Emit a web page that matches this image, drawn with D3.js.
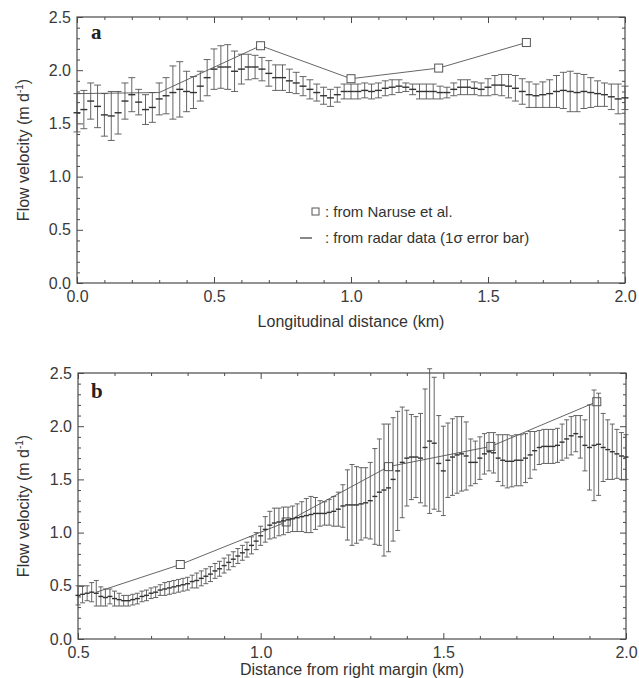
<!DOCTYPE html>
<html lang="en">
<head>
<meta charset="UTF-8">
<title>Flow velocity profiles</title>
<script src="https://cdn.jsdelivr.net/npm/d3@7"></script>
<style>
    html, body { margin: 0; padding: 0; background: #fff; }
    svg { display: block; font-family: "Liberation Sans", Arial, sans-serif; }
    .tick text { fill: #3a3a3a; }
</style>
</head>
<body>
<svg id="chart" width="639" height="678"></svg>
<script>
    // ---- panel a: longitudinal profile (radar, 0.025 km spacing) ----
    const topDist = d3.range(81).map(i => i * 0.025);
    const topVel = [
        1.60, 1.63, 1.71, 1.66, 1.58, 1.57, 1.60, 1.71, 1.77, 1.70,
        1.63, 1.65, 1.73, 1.76, 1.79, 1.82, 1.80, 1.79, 1.85, 1.93,
        2.01, 2.03, 2.03, 1.99, 2.01, 2.03, 2.03, 2.01, 1.97, 1.93,
        1.93, 1.90, 1.88, 1.85, 1.82, 1.79, 1.76, 1.74, 1.77, 1.80,
        1.80, 1.80, 1.81, 1.80, 1.81, 1.83, 1.84, 1.85, 1.84, 1.82,
        1.80, 1.80, 1.80, 1.79, 1.79, 1.82, 1.84, 1.84, 1.83, 1.82,
        1.84, 1.86, 1.86, 1.85, 1.83, 1.80, 1.77, 1.76, 1.77, 1.78,
        1.80, 1.81, 1.80, 1.79, 1.80, 1.79, 1.78, 1.77, 1.75, 1.73,
        1.74
    ];
    const topSig = [
        0.18, 0.18, 0.17, 0.20, 0.20, 0.23, 0.20, 0.17, 0.16, 0.12,
        0.14, 0.14, 0.15, 0.17, 0.25, 0.26, 0.19, 0.15, 0.14, 0.17,
        0.19, 0.20, 0.21, 0.19, 0.14, 0.12, 0.11, 0.11, 0.12, 0.12,
        0.12, 0.11, 0.10, 0.09, 0.09, 0.08, 0.08, 0.08, 0.07, 0.07,
        0.07, 0.07, 0.07, 0.07, 0.07, 0.07, 0.07, 0.06, 0.04, 0.05,
        0.07, 0.07, 0.07, 0.06, 0.05, 0.06, 0.07, 0.07, 0.06, 0.06,
        0.08, 0.09, 0.10, 0.11, 0.12, 0.12, 0.12, 0.11, 0.12, 0.13,
        0.15, 0.17, 0.19, 0.18, 0.16, 0.14, 0.12, 0.11, 0.12, 0.14,
        0.11
    ];
    const topNaruseDist = [0.0, 0.30, 0.67, 1.00, 1.32, 1.64];
    const topNaruseVel = [1.78, 1.79, 2.23, 1.92, 2.02, 2.26];
    // squares hidden under the radar bars in the figure are not marked
    const topNaruseShown = [false, false, true, true, true, true];

    // ---- panel b: transverse profile (radar, 0.0125 km spacing) ----
    const botDist = d3.range(121).map(i => 0.5 + i * 0.0125);
    const botVel = [
        0.41, 0.42, 0.43, 0.44, 0.43, 0.40, 0.39, 0.40, 0.38, 0.37,
        0.36, 0.36, 0.37, 0.38, 0.40, 0.41, 0.43, 0.44, 0.46, 0.47,
        0.48, 0.49, 0.50, 0.51, 0.52, 0.54, 0.55, 0.57, 0.59, 0.61,
        0.64, 0.66, 0.69, 0.72, 0.75, 0.78, 0.81, 0.84, 0.88, 0.92,
        0.97, 1.03, 1.07, 1.09, 1.10, 1.11, 1.12, 1.13, 1.14, 1.15,
        1.16, 1.17, 1.18, 1.18, 1.18, 1.19, 1.20, 1.22, 1.25, 1.26,
        1.26, 1.26, 1.27, 1.28, 1.30, 1.34, 1.38, 1.40, 1.42, 1.50,
        1.58, 1.66, 1.70, 1.71, 1.71, 1.70, 1.80, 1.86, 1.84, 1.65,
        1.58, 1.68, 1.71, 1.73, 1.74, 1.72, 1.66, 1.66, 1.70, 1.74,
        1.76, 1.75, 1.70, 1.68, 1.67, 1.67, 1.68, 1.68, 1.70, 1.73,
        1.77, 1.80, 1.81, 1.81, 1.81, 1.82, 1.85, 1.88, 1.91, 1.93,
        1.90, 1.82, 1.80, 1.82, 1.83, 1.80, 1.78, 1.76, 1.74, 1.72,
        1.71
    ];
    const botSig = [
        0.09, 0.08, 0.07, 0.09, 0.12, 0.09, 0.08, 0.07, 0.07, 0.06,
        0.05, 0.05, 0.05, 0.05, 0.05, 0.05, 0.05, 0.05, 0.05, 0.06,
        0.06, 0.06, 0.06, 0.06, 0.06, 0.06, 0.07, 0.07, 0.07, 0.07,
        0.07, 0.07, 0.07, 0.07, 0.07, 0.07, 0.07, 0.07, 0.08, 0.08,
        0.09, 0.12, 0.13, 0.14, 0.13, 0.13, 0.12, 0.12, 0.13, 0.14,
        0.16, 0.17, 0.15, 0.12, 0.11, 0.12, 0.14, 0.16, 0.20, 0.33,
        0.38, 0.36, 0.34, 0.33, 0.36, 0.45, 0.50, 0.62, 0.60, 0.58,
        0.56, 0.52, 0.45, 0.40, 0.38, 0.42, 0.55, 0.68, 0.62, 0.45,
        0.42, 0.35, 0.36, 0.36, 0.35, 0.32, 0.22, 0.20, 0.20, 0.19,
        0.18, 0.19, 0.22, 0.24, 0.25, 0.24, 0.24, 0.24, 0.23, 0.22,
        0.18, 0.16, 0.16, 0.16, 0.16, 0.16, 0.17, 0.18, 0.18, 0.17,
        0.20, 0.24, 0.40, 0.52, 0.48, 0.32, 0.28, 0.26, 0.23, 0.22,
        0.21
    ];
    const botNaruseDist = [0.55, 0.78, 1.07, 1.35, 1.63, 1.92];
    const botNaruseVel = [0.44, 0.70, 1.10, 1.62, 1.81, 2.23];
    const botNaruseShown = [false, true, true, true, true, true];

    // tick values
    const yMajor = [0, 0.5, 1.0, 1.5, 2.0, 2.5];
    const topXMajor = [0, 0.5, 1.0, 1.5, 2.0];
    const botXMajor = [0.5, 1.0, 1.5, 2.0];

    const ink = '#4a4a4a';
    const svg = d3.select('#chart');

    function drawPanel(opt) {
        const x = d3.scaleLinear().domain(opt.xDomain).range([opt.left, opt.right]);
        const y = d3.scaleLinear().domain([0, 2.5]).range([opt.bottom, opt.top]);
        const g = svg.append('g');

        const xMinor = d3.range(Math.round(opt.xDomain[0] * 10), Math.round(opt.xDomain[1] * 10) + 1)
            .map(d => d / 10).filter(d => !opt.xMajor.some(m => Math.abs(m - d) < 1e-6));
        const yMinor = d3.range(0, 26).map(d => d / 10)
            .filter(d => !yMajor.some(m => Math.abs(m - d) < 1e-6));

        function addAxis(axis, tx, ty) {
            const a = g.append('g').attr('transform', `translate(${tx},${ty})`).call(axis);
            a.select('.domain').remove();
            a.selectAll('line').attr('stroke', ink);
            a.selectAll('text').attr('font-size', 16);
            return a;
        }
        const fmt = d3.format('.1f');
        // bottom
        addAxis(d3.axisBottom(x).tickValues(opt.xMajor).tickSize(-6).tickPadding(8).tickFormat(fmt), 0, opt.bottom);
        addAxis(d3.axisBottom(x).tickValues(xMinor).tickSize(-3).tickFormat(''), 0, opt.bottom);
        // top
        addAxis(d3.axisTop(x).tickValues(opt.xMajor).tickSize(-6).tickFormat(''), 0, opt.top);
        addAxis(d3.axisTop(x).tickValues(xMinor).tickSize(-3).tickFormat(''), 0, opt.top);
        // left
        addAxis(d3.axisLeft(y).tickValues(yMajor).tickSize(-6).tickPadding(6).tickFormat(fmt), opt.left, 0);
        addAxis(d3.axisLeft(y).tickValues(yMinor).tickSize(-3).tickFormat(''), opt.left, 0);
        // right
        addAxis(d3.axisRight(y).tickValues(yMajor).tickSize(-6).tickFormat(''), opt.right, 0);
        addAxis(d3.axisRight(y).tickValues(yMinor).tickSize(-3).tickFormat(''), opt.right, 0);

        // frame
        g.append('rect')
            .attr('x', opt.left).attr('y', opt.top)
            .attr('width', opt.right - opt.left).attr('height', opt.bottom - opt.top)
            .attr('fill', 'none').attr('stroke', ink).attr('stroke-width', 1.2);

        // Naruse et al. line + squares
        const naruse = opt.nDist.map((d, i) => [d, opt.nVel[i], opt.nShown[i]]);
        g.append('path')
            .datum(naruse)
            .attr('d', d3.line().x(d => x(d[0])).y(d => y(d[1])))
            .attr('fill', 'none').attr('stroke', '#666').attr('stroke-width', 1);
        g.selectAll('.sq').data(naruse.filter(d => d[2])).join('rect')
            .attr('x', d => x(d[0]) - 4).attr('y', d => y(d[1]) - 4)
            .attr('width', 8).attr('height', 8)
            .attr('fill', '#fff').attr('stroke', '#555').attr('stroke-width', 1);

        // radar error bars
        const pts = opt.dist.map((d, i) => ({ d: d, v: opt.vel[i], s: opt.sig[i] }));
        const cw = opt.cap / 2;
        const eb = g.append('g').attr('stroke', '#555').attr('stroke-width', 0.9);
        pts.forEach(p => {
            const px = x(p.d);
            const yHi = y(p.v + p.s), yLo = y(p.v - p.s), yM = y(p.v);
            eb.append('line').attr('x1', px).attr('x2', px).attr('y1', yHi).attr('y2', yLo);
            eb.append('line').attr('x1', px - cw).attr('x2', px + cw).attr('y1', yHi).attr('y2', yHi);
            eb.append('line').attr('x1', px - cw).attr('x2', px + cw).attr('y1', yLo).attr('y2', yLo);
            eb.append('line').attr('x1', px - cw).attr('x2', px + cw).attr('y1', yM).attr('y2', yM)
                .attr('stroke', '#333').attr('stroke-width', 1.4);
        });

        // panel letter
        g.append('text')
            .attr('x', opt.letterX).attr('y', opt.letterY)
            .attr('font-family', '"Liberation Serif", "Times New Roman", serif')
            .attr('font-weight', 'bold').attr('font-size', 21).attr('fill', '#222')
            .text(opt.letter);

        // axis titles
        g.append('text')
            .attr('x', (opt.left + opt.right) / 2).attr('y', opt.bottom + opt.xTitleOffset)
            .attr('text-anchor', 'middle').attr('font-size', 16).attr('fill', '#333')
            .text(opt.xTitle);
        const yt = g.append('text')
            .attr('transform', `translate(29,${(opt.top + opt.bottom) / 2}) rotate(-90)`)
            .attr('text-anchor', 'middle').attr('font-size', 16).attr('fill', '#333');
        yt.append('tspan').text('Flow velocity (m d');
        yt.append('tspan').attr('font-size', 10).attr('dy', -6).text('-1');
        yt.append('tspan').attr('dy', 6).text(')');

        return { x, y, g };
    }

    const a = drawPanel({
        left: 77, right: 625, top: 17, bottom: 283,
        xDomain: [0, 2], xMajor: topXMajor,
        dist: topDist, vel: topVel, sig: topSig, cap: 7,
        nDist: topNaruseDist, nVel: topNaruseVel, nShown: topNaruseShown,
        letter: 'a', letterX: 91, letterY: 39,
        xTitle: 'Longitudinal distance (km)', xTitleOffset: 44
    });

    drawPanel({
        left: 78, right: 626, top: 373, bottom: 639,
        xDomain: [0.5, 2], xMajor: botXMajor,
        dist: botDist, vel: botVel, sig: botSig, cap: 5,
        nDist: botNaruseDist, nVel: botNaruseVel, nShown: botNaruseShown,
        letter: 'b', letterX: 91, letterY: 398,
        xTitle: 'Distance from right margin (km)', xTitleOffset: 36
    });

    // legend in panel a
    const leg = a.g.append('g').attr('font-size', 15).attr('fill', '#333');
    leg.append('rect').attr('x', 312).attr('y', 208).attr('width', 7).attr('height', 7)
        .attr('fill', '#fff').attr('stroke', '#555');
    leg.append('text').attr('x', 325).attr('y', 217).text(': from Naruse et al.');
    leg.append('line').attr('x1', 300).attr('x2', 312).attr('y1', 238).attr('y2', 238)
        .attr('stroke', '#555').attr('stroke-width', 1.4);
    leg.append('text').attr('x', 325).attr('y', 243).text(': from radar data (1σ error bar)');
</script>
</body>
</html>
